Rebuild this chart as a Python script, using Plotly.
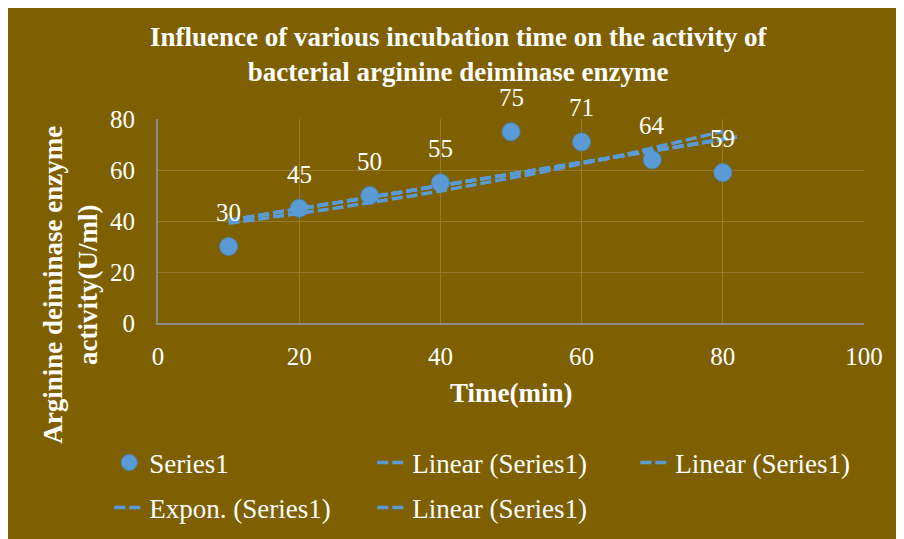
import numpy as np
import plotly.graph_objects as go

# datos
tiempo = [10, 20, 30, 40, 50, 60, 70, 80]
actividad = [30, 45, 50, 55, 75, 71, 64, 59]
x_ticks = [0, 20, 40, 60, 80, 100]
y_ticks = [0, 20, 40, 60, 80]
lineal_hasta = 82  # pronóstico hacia adelante de la tendencia lineal

FONDO = "#7F6000"
AZUL = "#5B9BD5"
FUENTE = "Liberation Serif"


def tendencia_lineal(x, y, x_fin):
    m, b = np.polyfit(x, y, 1)
    xs = np.array([min(x), x_fin])
    return xs, m * xs + b


def tendencia_expon(x, y):
    k, lnA = np.polyfit(x, np.log(y), 1)
    xs = np.linspace(min(x), max(x), 50)
    return xs, np.exp(lnA) * np.exp(k * xs)


xl, yl = tendencia_lineal(tiempo, actividad, lineal_hasta)
xe, ye = tendencia_expon(tiempo, actividad)

linea = dict(color=AZUL, width=3.5, dash="11px,4px")

fig = go.Figure()
fig.add_trace(go.Scatter(
    x=tiempo, y=actividad, mode="markers", name="Series1", legend="legend",
    marker=dict(color=AZUL, size=18, line=dict(color="#4a86bd", width=1))
))
for nombre, xs, ys, ley in [("Linear (Series1)", xl, yl, "legend"),
                            ("Linear (Series1)", xl, yl, "legend"),
                            ("Expon. (Series1)", xe, ye, "legend2"),
                            ("Linear (Series1)", xl, yl, "legend2")]:
    fig.add_trace(go.Scatter(x=xs, y=ys, mode="lines", name=nombre, line=linea,
                             legend=ley))

texto = dict(size=25, color="white", family=FUENTE)
grande = dict(size=27, color="white", family=FUENTE)

for xi, yi in zip(tiempo, actividad):
    fig.add_annotation(x=xi, y=yi, text=str(yi), showarrow=False, yshift=34,
                       font=texto)

fig.add_annotation(
    text="<b>Arginine deiminase enzyme<br>activity(U/ml)</b>",
    xref="paper", yref="paper", x=-0.124, y=0.19, textangle=-90,
    showarrow=False, xanchor="center", yanchor="middle", font=grande
)
fig.add_annotation(
    text="<b>Time(min)</b>", xref="paper", yref="paper", x=0.5, y=-0.343,
    showarrow=False, xanchor="center", yanchor="middle", font=grande
)

eje = dict(showline=True, linecolor="#8c8c8c", linewidth=2, gridcolor="#957a2e",
           gridwidth=1, zeroline=False, ticks="", tickfont=texto)

ley_comun = dict(orientation="h", xanchor="left", yanchor="middle",
                 entrywidth=218, entrywidthmode="pixels",
                 bgcolor="rgba(0,0,0,0)", font=grande)

fig.update_layout(
    width=904, height=539,
    margin=dict(l=150, r=48, t=111, b=224),
    paper_bgcolor=FONDO, plot_bgcolor=FONDO,
    title=dict(
        text="<b>Influence of various incubation time on the activity of<br>"
             "bacterial arginine deiminase enzyme</b>",
        x=0.498, y=0.929, xanchor="center", yanchor="middle", font=grande
    ),
    xaxis=dict(range=[0, 100], tickvals=x_ticks, ticklabelstandoff=10, **eje),
    yaxis=dict(range=[0, 80], tickvals=y_ticks, ticklabelstandoff=16, **eje),
    showlegend=True,
    legend=dict(x=-0.069, y=-0.686, **ley_comun),
    legend2=dict(x=-0.069, y=-0.907, **ley_comun),
)

fig.write_html("out.html")
